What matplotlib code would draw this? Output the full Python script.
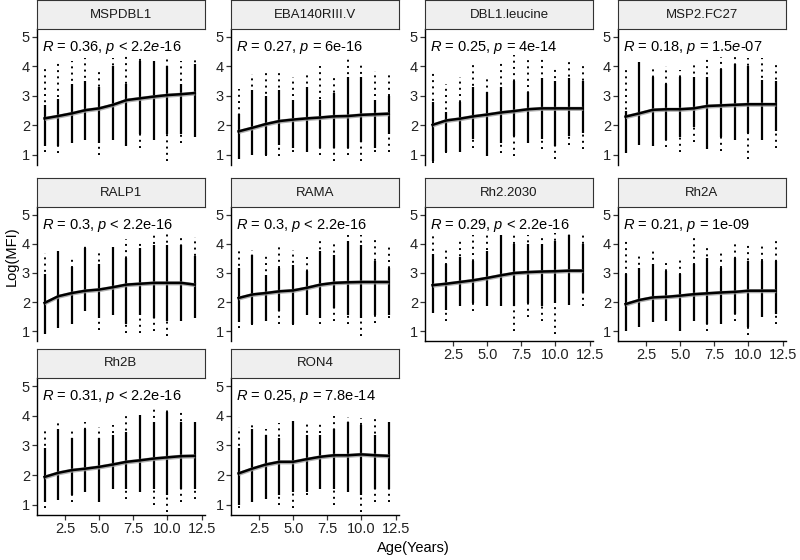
import numpy as np
import matplotlib
matplotlib.use('Agg')
import matplotlib.pyplot as plt

plt.rcParams['font.family'] = ['Liberation Sans', 'DejaVu Sans']
plt.rcParams['mathtext.fontset'] = 'custom'
plt.rcParams['mathtext.rm'] = 'Liberation Sans'
plt.rcParams['mathtext.it'] = 'Liberation Sans:italic'

# antigens, in facet order
panels = ['MSPDBL1', 'EBA140RIII.V', 'DBL1.leucine', 'MSP2.FC27',
          'RALP1', 'RAMA', 'Rh2.2030', 'Rh2A', 'Rh2B', 'RON4']
r_vals = ['0.36', '0.27', '0.25', '0.18', '0.3', '0.3', '0.29', '0.21', '0.31', '0.25']
p_ops = ['<', '=', '=', '=', '<', '<', '<', '=', '<', '=']
p_vals = [r'2.2$\it{e}$-16', '6e-16', '4e-14', r'1.5$\it{e}$-07', '2.2e-16',
          '2.2e-16', '2.2e-16', '1e-09', '2.2e-16', '7.8e-14']

ages = [1, 2, 3, 4, 5, 6, 7, 8, 9, 10, 11, 12]

# per age: outermost points (min/max) and the dense run of points (lo/hi)
col_max = [
    [4.05, 4.2, 4.2, 4.3, 3.8, 4.3, 4.35, 4.35, 4.2, 4.35, 4.2, 4.3],
    [3.24, 3.75, 3.9, 3.85, 3.65, 3.8, 4.0, 3.75, 4.3, 4.1, 3.85, 3.7],
    [3.77, 3.4, 3.63, 4.15, 3.63, 4.2, 4.4, 4.25, 4.3, 3.9, 4.2, 4.1],
    [3.88, 4.16, 3.94, 4.0, 3.88, 4.1, 4.33, 4.33, 4.33, 4.28, 4.28, 4.16],
    [3.7, 3.85, 3.57, 3.97, 3.8, 3.88, 4.18, 4.03, 4.3, 4.37, 4.25, 4.25],
    [3.8, 3.8, 3.69, 3.91, 3.8, 3.69, 4.14, 4.11, 4.31, 4.31, 4.26, 3.88],
    [4.27, 3.9, 4.21, 4.32, 4.38, 4.32, 4.38, 4.32, 4.27, 4.38, 4.44, 4.32],
    [4.2, 3.58, 3.8, 3.4, 3.52, 4.32, 3.98, 3.75, 4.03, 3.98, 4.0, 4.15],
    [3.57, 3.74, 3.6, 3.8, 3.63, 3.69, 4.02, 4.02, 4.25, 4.25, 4.16, 3.85],
    [3.63, 3.74, 3.57, 3.74, 3.82, 3.8, 3.71, 4.0, 3.97, 3.93, 3.89, 3.8],
]
col_hi = [
    [2.7, 2.9, 3.4, 3.5, 3.3, 4.0, 3.4, 4.2, 4.2, 4.0, 3.4, 4.1],
    [2.4, 3.2, 3.0, 3.2, 2.85, 3.3, 2.85, 3.1, 3.65, 3.65, 2.85, 3.0],
    [2.8, 2.45, 2.8, 3.3, 3.15, 3.3, 3.5, 3.15, 3.6, 3.5, 3.6, 3.5],
    [2.5, 4.16, 3.65, 3.4, 3.65, 3.65, 3.65, 3.9, 4.1, 4.0, 3.55, 3.5],
    [2.95, 3.75, 3.2, 3.85, 3.3, 3.88, 3.5, 3.85, 3.97, 3.97, 3.97, 3.6],
    [3.17, 3.63, 2.94, 3.17, 3.29, 3.06, 3.74, 3.63, 4.09, 3.97, 3.4, 3.17],
    [3.65, 3.31, 3.54, 3.42, 3.76, 4.32, 3.99, 3.99, 3.99, 4.1, 4.32, 3.99],
    [2.95, 3.18, 3.3, 3.07, 2.95, 3.3, 3.52, 3.18, 3.52, 3.4, 3.4, 3.4],
    [2.9, 3.57, 3.24, 3.57, 3.24, 3.35, 3.46, 4.02, 3.8, 4.13, 3.8, 3.8],
    [2.9, 3.57, 3.35, 3.24, 3.82, 3.35, 3.35, 3.57, 3.8, 3.69, 3.35, 3.8],
]
col_lo = [
    [1.3, 1.3, 1.4, 1.5, 1.4, 1.5, 1.3, 1.7, 1.5, 1.7, 1.7, 1.6],
    [0.85, 1.0, 1.0, 1.35, 1.25, 1.1, 1.25, 1.25, 1.25, 1.45, 1.25, 1.7],
    [0.8, 1.1, 1.1, 1.55, 0.95, 1.4, 1.65, 1.4, 1.55, 1.3, 1.65, 1.75],
    [1.05, 1.34, 1.3, 1.5, 1.6, 1.95, 1.2, 1.6, 1.5, 1.75, 1.5, 1.8],
    [0.9, 1.1, 1.25, 1.7, 1.45, 1.57, 1.25, 1.57, 1.45, 1.35, 1.35, 1.45],
    [1.3, 1.23, 1.34, 1.69, 1.23, 1.57, 1.46, 1.8, 1.57, 1.46, 1.57, 1.57],
    [1.62, 1.73, 1.85, 1.96, 1.85, 1.85, 1.85, 1.96, 1.85, 1.96, 1.9, 2.3],
    [1.0, 1.14, 1.3, 1.36, 1.0, 1.36, 1.25, 1.25, 1.6, 1.14, 1.48, 1.6],
    [1.1, 1.16, 1.33, 1.44, 1.1, 1.55, 1.55, 1.44, 1.55, 1.33, 1.55, 1.55],
    [0.99, 1.1, 1.21, 1.33, 1.44, 1.44, 1.55, 1.55, 1.44, 1.33, 1.55, 1.55],
]
col_min = [
    [1.1, 1.05, 1.4, 1.5, 1.0, 1.5, 1.3, 1.25, 1.5, 0.8, 1.4, 1.6],
    [0.85, 1.0, 0.95, 0.95, 1.1, 1.1, 1.0, 0.8, 1.0, 0.8, 1.1, 1.1],
    [0.72, 1.05, 1.1, 1.25, 0.95, 1.05, 0.95, 1.4, 1.2, 0.85, 1.35, 1.2],
    [1.05, 1.34, 1.3, 1.28, 1.1, 1.45, 1.2, 1.15, 1.5, 0.85, 1.5, 1.22],
    [0.9, 1.1, 1.25, 1.7, 1.05, 1.55, 0.95, 0.95, 1.0, 0.83, 1.35, 1.45],
    [1.1, 1.2, 1.34, 1.23, 1.2, 1.57, 1.23, 1.34, 1.23, 0.83, 1.29, 1.46],
    [1.62, 1.34, 1.85, 1.68, 1.85, 1.85, 1.0, 1.5, 1.34, 0.9, 1.9, 1.85],
    [1.0, 1.14, 1.3, 1.36, 1.0, 1.36, 1.0, 1.25, 1.36, 0.85, 1.48, 1.25],
    [0.88, 1.16, 1.1, 1.44, 1.1, 1.55, 1.21, 1.44, 1.0, 0.77, 1.1, 1.21],
    [0.88, 1.1, 1.21, 0.99, 0.88, 1.33, 1.55, 0.99, 1.44, 0.77, 1.1, 1.1],
]
# loess fit per age
fit = [
    [2.24, 2.32, 2.41, 2.52, 2.58, 2.7, 2.86, 2.92, 2.98, 3.03, 3.06, 3.1],
    [1.8, 1.92, 2.05, 2.15, 2.2, 2.24, 2.27, 2.31, 2.32, 2.36, 2.38, 2.4],
    [2.02, 2.17, 2.23, 2.31, 2.37, 2.44, 2.49, 2.55, 2.58, 2.58, 2.58, 2.58],
    [2.3, 2.41, 2.53, 2.55, 2.55, 2.58, 2.66, 2.68, 2.7, 2.72, 2.72, 2.72],
    [1.97, 2.2, 2.31, 2.39, 2.43, 2.51, 2.6, 2.63, 2.66, 2.66, 2.66, 2.6],
    [2.14, 2.26, 2.31, 2.37, 2.4, 2.49, 2.6, 2.66, 2.68, 2.69, 2.69, 2.69],
    [2.58, 2.63, 2.69, 2.75, 2.83, 2.92, 3.0, 3.03, 3.05, 3.06, 3.08, 3.08],
    [1.93, 2.07, 2.16, 2.18, 2.22, 2.27, 2.3, 2.33, 2.35, 2.39, 2.39, 2.39],
    [1.94, 2.08, 2.17, 2.22, 2.28, 2.36, 2.45, 2.5, 2.56, 2.6, 2.64, 2.65],
    [2.06, 2.22, 2.36, 2.45, 2.45, 2.54, 2.62, 2.67, 2.67, 2.7, 2.67, 2.65],
]
se = [0.07, 0.07, 0.07, 0.07, 0.07, 0.07, 0.07, 0.07, 0.07, 0.07]

W, H = 800, 560
fig = plt.figure(figsize=(8, 5.6), dpi=100)

col_x = [37, 231, 425, 618]
col_w = 168
row_plot = [(29, 165), (207, 341), (378, 515)]
strip_h = 29


def px(x0, y0, x1, y1):
    return [x0 / W, 1 - y1 / H, (x1 - x0) / W, (y1 - y0) / H]


for i, name in enumerate(panels):
    r, c = divmod(i, 4)
    x0 = col_x[c]
    y0, y1 = row_plot[r]
    ax = fig.add_axes(px(x0, y0, x0 + col_w, y1))

    ax.vlines(ages, col_min[i], col_max[i], colors='black',
              linestyles=(0, (1, 2.2)), lw=1.4)
    ax.vlines(ages, col_lo[i], col_hi[i], colors='black', lw=1.6)
    f = np.array(fit[i])
    ax.fill_between(ages, f - se[i], f + se[i], color='#9a9a9a',
                    alpha=0.8, lw=0, zorder=3)
    ax.plot(ages, f, color='black', lw=1.8, zorder=4)

    ax.text(0.85, 4.65, r'$\it{R}$ = ' + r_vals[i] + r', $\it{p}$ ' + p_ops[i] + ' ' + p_vals[i],
            fontsize=10.5, ha='left', va='center', color='black')

    ax.set_xlim(0.45, 12.75)
    ax.set_ylim(0.66, 5.27)
    ax.set_yticks([1, 2, 3, 4, 5])
    ax.set_xticks([2.5, 5.0, 7.5, 10.0, 12.5])
    ax.set_xticklabels(['2.5', '5.0', '7.5', '10.0', '12.5'])
    for s in ['top', 'right']:
        ax.spines[s].set_visible(False)
    ax.spines['left'].set_linewidth(1.0)
    ax.spines['bottom'].set_linewidth(1.0)
    ax.tick_params(labelsize=10.5, colors='#333333', length=3.5, width=0.9, pad=1.5)
    ax.tick_params(axis='both', labelcolor='#222222')

    # x axis only on panels with nothing below
    if not (r == 2 or (r == 1 and c >= 2)):
        ax.spines['bottom'].set_visible(False)
        ax.tick_params(axis='x', bottom=False, labelbottom=False)

    sax = fig.add_axes(px(x0, y0 - strip_h, x0 + col_w, y0))
    sax.set_facecolor('#efefef')
    sax.set_xticks([])
    sax.set_yticks([])
    for s in sax.spines.values():
        s.set_color('#333333')
        s.set_linewidth(0.8)
    sax.text(0.5, 0.5, name, ha='center', va='center', fontsize=9.5,
             color='#1a1a1a', transform=sax.transAxes)

fig.text(12 / W, 1 - 256 / H, 'Log(MFI)', rotation=90, ha='center', va='center',
         fontsize=10.5)
fig.text(413 / W, 1 - 548 / H, 'Age(Years)', ha='center', va='center', fontsize=10.5)

fig.savefig('out.png', dpi=100)
